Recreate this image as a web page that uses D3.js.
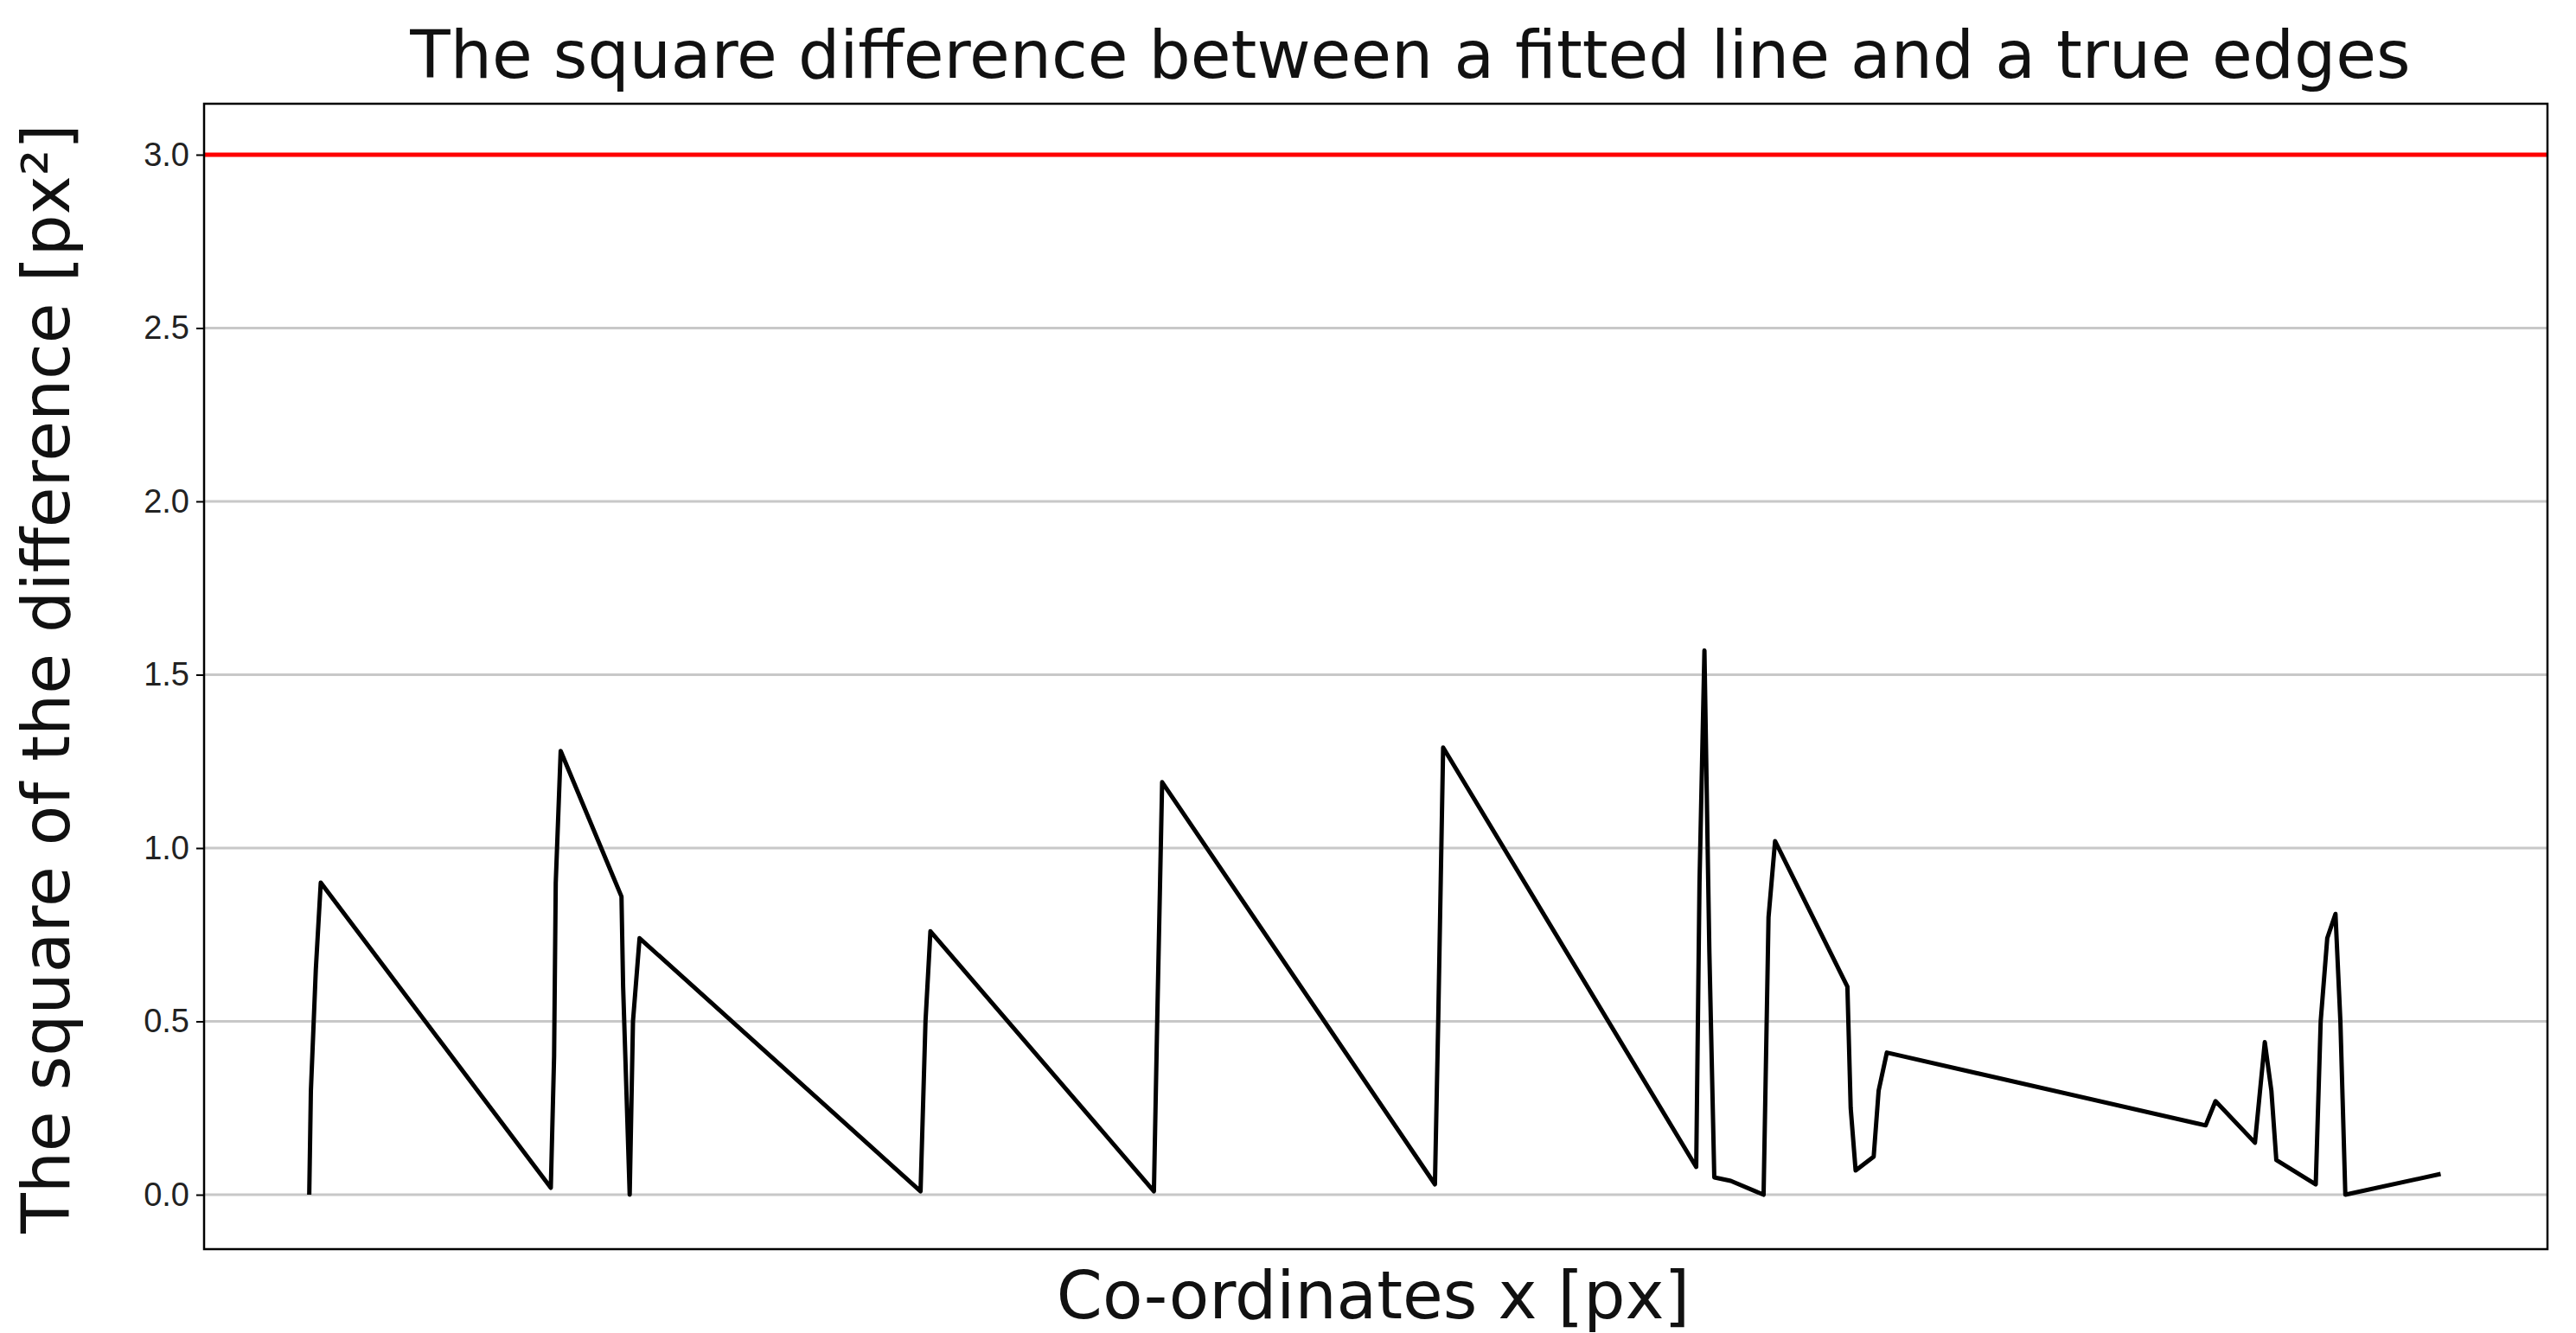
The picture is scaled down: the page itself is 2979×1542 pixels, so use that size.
<!DOCTYPE html>
<html><head><meta charset="utf-8">
<script src="https://cdn.jsdelivr.net/npm/d3@7"></script>
<style>body{margin:0;background:#fff}</style>
</head><body>
<div id="chart"></div>
<script>
// x positions are arbitrary (no x ticks on the original)
var xs = [188,189,192,195,335,337,338,341,378,379,383,385,389,560,563,566,702,704,707,873,875,878,1032,1034,1037,1040,1043,1053,1073,1076,1080,1124,1126,1129,1140,1143,1148,1342,1348,1372,1378,1382,1385,1409,1412,1416,1421,1424,1427,1485];
var ys = [0,0.3,0.65,0.9,0.02,0.4,0.9,1.28,0.86,0.6,0,0.5,0.74,0.01,0.5,0.76,0.01,0.5,1.19,0.03,0.5,1.29,0.08,0.9,1.57,0.7,0.05,0.04,0,0.8,1.02,0.6,0.25,0.07,0.11,0.3,0.41,0.2,0.27,0.15,0.44,0.3,0.1,0.03,0.5,0.74,0.81,0.5,0,0.06];
var yTicks = [0, 0.5, 1, 1.5, 2, 2.5, 3];
var threshold = 3.0;

var config = {width: 2979, height: 1542, left: 236, right: 2946, top: 120, bottom: 1445};

var svg = d3.select('#chart').append('svg')
	.attr('width', config.width)
	.attr('height', config.height)
	.style('font-family', 'DejaVu Sans');

var x = d3.scaleLinear().domain([124, 1550]).range([config.left, config.right]);
var y = d3.scaleLinear().domain([-0.157, 3.147]).range([config.bottom, config.top]);

// grid
svg.append('g').selectAll('line').data(yTicks).enter().append('line')
	.attr('x1', config.left).attr('x2', config.right)
	.attr('y1', function(d) { return y(d); })
	.attr('y2', function(d) { return y(d); })
	.style('stroke', '#c8c8c8').style('stroke-width', 3);

// y axis
var yAxis = svg.append('g').attr('transform', 'translate(' + config.left + ',0)')
	.call(d3.axisLeft(y).tickValues(yTicks).tickFormat(d3.format('.1f')).tickSize(9).tickPadding(8));
yAxis.select('.domain').remove();
yAxis.selectAll('line').style('stroke', '#000').style('stroke-width', 2);
yAxis.selectAll('text').style('font-size', '38px').style('fill', '#222');

// threshold
svg.append('line')
	.attr('x1', config.left).attr('x2', config.right)
	.attr('y1', y(threshold)).attr('y2', y(threshold))
	.style('stroke', '#ff0000').style('stroke-width', 5);

// data
var pts = xs.map(function(d, i) { return [d, ys[i]]; });
svg.append('path').datum(pts)
	.attr('d', d3.line().x(function(d) { return x(d[0]); }).y(function(d) { return y(d[1]); }))
	.style('fill', 'none').style('stroke', '#000').style('stroke-width', 5)
	.style('stroke-linejoin', 'round');

// frame
svg.append('rect')
	.attr('x', config.left).attr('y', config.top)
	.attr('width', config.right - config.left).attr('height', config.bottom - config.top)
	.style('fill', 'none').style('stroke', '#000').style('stroke-width', 2.5);

// titles
svg.append('text').attr('x', (config.left + config.right) / 2 + 40).attr('y', 90)
	.attr('text-anchor', 'middle').style('font-size', '76px').style('fill', '#111')
	.text('The square difference between a fitted line and a true edges');
svg.append('text').attr('x', 1588).attr('y', 1525)
	.attr('text-anchor', 'middle').style('font-size', '76px').style('fill', '#111')
	.text('Co-ordinates x [px]');
svg.append('text')
	.attr('transform', 'translate(80,' + 785 + ') rotate(-90)')
	.attr('text-anchor', 'middle').style('font-size', '76px').style('fill', '#111')
	.text('The square of the difference [px²]');
</script>
</body></html>
